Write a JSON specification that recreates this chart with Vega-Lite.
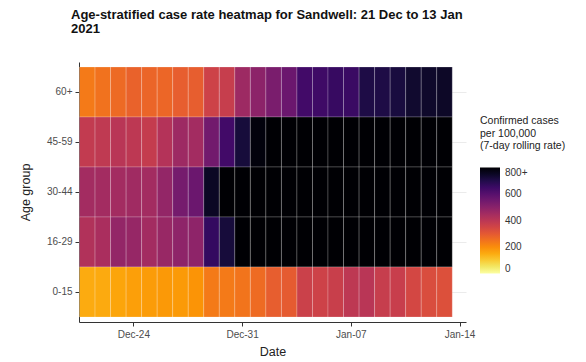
{
  "$schema": "https://vega.github.io/schema/vega-lite/v6.json",
  "width": 387,
  "height": 260,
  "autosize": {"type": "none"},
  "padding": {"left": 79, "top": 62, "right": 120, "bottom": 40},
  "background": "white",
  "config": {
    "font": "Liberation Sans",
    "view": {"stroke": null},
    "axis": {"domainColor": "#333333", "tickColor": "#333333", "labelColor": "#4d4d4d", "labelFontSize": 10, "titleFontSize": 12.5, "titleFontWeight": "normal", "titleColor": "#222222", "tickSize": 4}
  },
  "title": {
    "text": ["Age-stratified case rate heatmap for Sandwell: 21 Dec to 13 Jan", "2021"],
    "anchor": "start",
    "frame": "group",
    "dx": -8,
    "fontSize": 13,
    "fontWeight": "bold",
    "color": "#111111",
    "lineHeight": 14,
    "offset": 26
  },
  "data": {
    "values": [
      {"date": "2020-12-21", "age": "60+", "rate": 235},
      {"date": "2020-12-22", "age": "60+", "rate": 250},
      {"date": "2020-12-23", "age": "60+", "rate": 265},
      {"date": "2020-12-24", "age": "60+", "rate": 280},
      {"date": "2020-12-25", "age": "60+", "rate": 275},
      {"date": "2020-12-26", "age": "60+", "rate": 272},
      {"date": "2020-12-27", "age": "60+", "rate": 290},
      {"date": "2020-12-28", "age": "60+", "rate": 290},
      {"date": "2020-12-29", "age": "60+", "rate": 360},
      {"date": "2020-12-30", "age": "60+", "rate": 375},
      {"date": "2020-12-31", "age": "60+", "rate": 460},
      {"date": "2021-01-01", "age": "60+", "rate": 495},
      {"date": "2021-01-02", "age": "60+", "rate": 530},
      {"date": "2021-01-03", "age": "60+", "rate": 560},
      {"date": "2021-01-04", "age": "60+", "rate": 640},
      {"date": "2021-01-05", "age": "60+", "rate": 645},
      {"date": "2021-01-06", "age": "60+", "rate": 660},
      {"date": "2021-01-07", "age": "60+", "rate": 655},
      {"date": "2021-01-08", "age": "60+", "rate": 705},
      {"date": "2021-01-09", "age": "60+", "rate": 705},
      {"date": "2021-01-10", "age": "60+", "rate": 715},
      {"date": "2021-01-11", "age": "60+", "rate": 735},
      {"date": "2021-01-12", "age": "60+", "rate": 740},
      {"date": "2021-01-13", "age": "60+", "rate": 745},
      {"date": "2020-12-21", "age": "45-59", "rate": 385},
      {"date": "2020-12-22", "age": "45-59", "rate": 390},
      {"date": "2020-12-23", "age": "45-59", "rate": 405},
      {"date": "2020-12-24", "age": "45-59", "rate": 395},
      {"date": "2020-12-25", "age": "45-59", "rate": 380},
      {"date": "2020-12-26", "age": "45-59", "rate": 415},
      {"date": "2020-12-27", "age": "45-59", "rate": 460},
      {"date": "2020-12-28", "age": "45-59", "rate": 450},
      {"date": "2020-12-29", "age": "45-59", "rate": 545},
      {"date": "2020-12-30", "age": "45-59", "rate": 640},
      {"date": "2020-12-31", "age": "45-59", "rate": 720},
      {"date": "2021-01-01", "age": "45-59", "rate": 785},
      {"date": "2021-01-02", "age": "45-59", "rate": 850},
      {"date": "2021-01-03", "age": "45-59", "rate": 900},
      {"date": "2021-01-04", "age": "45-59", "rate": 950},
      {"date": "2021-01-05", "age": "45-59", "rate": 980},
      {"date": "2021-01-06", "age": "45-59", "rate": 1000},
      {"date": "2021-01-07", "age": "45-59", "rate": 1020},
      {"date": "2021-01-08", "age": "45-59", "rate": 1010},
      {"date": "2021-01-09", "age": "45-59", "rate": 990},
      {"date": "2021-01-10", "age": "45-59", "rate": 960},
      {"date": "2021-01-11", "age": "45-59", "rate": 930},
      {"date": "2021-01-12", "age": "45-59", "rate": 900},
      {"date": "2021-01-13", "age": "45-59", "rate": 880},
      {"date": "2020-12-21", "age": "30-44", "rate": 450},
      {"date": "2020-12-22", "age": "30-44", "rate": 450},
      {"date": "2020-12-23", "age": "30-44", "rate": 450},
      {"date": "2020-12-24", "age": "30-44", "rate": 455},
      {"date": "2020-12-25", "age": "30-44", "rate": 450},
      {"date": "2020-12-26", "age": "30-44", "rate": 480},
      {"date": "2020-12-27", "age": "30-44", "rate": 540},
      {"date": "2020-12-28", "age": "30-44", "rate": 560},
      {"date": "2020-12-29", "age": "30-44", "rate": 750},
      {"date": "2020-12-30", "age": "30-44", "rate": 830},
      {"date": "2020-12-31", "age": "30-44", "rate": 880},
      {"date": "2021-01-01", "age": "30-44", "rate": 920},
      {"date": "2021-01-02", "age": "30-44", "rate": 960},
      {"date": "2021-01-03", "age": "30-44", "rate": 1000},
      {"date": "2021-01-04", "age": "30-44", "rate": 1040},
      {"date": "2021-01-05", "age": "30-44", "rate": 1060},
      {"date": "2021-01-06", "age": "30-44", "rate": 1080},
      {"date": "2021-01-07", "age": "30-44", "rate": 1070},
      {"date": "2021-01-08", "age": "30-44", "rate": 1050},
      {"date": "2021-01-09", "age": "30-44", "rate": 1020},
      {"date": "2021-01-10", "age": "30-44", "rate": 990},
      {"date": "2021-01-11", "age": "30-44", "rate": 960},
      {"date": "2021-01-12", "age": "30-44", "rate": 930},
      {"date": "2021-01-13", "age": "30-44", "rate": 900},
      {"date": "2020-12-21", "age": "16-29", "rate": 420},
      {"date": "2020-12-22", "age": "16-29", "rate": 435},
      {"date": "2020-12-23", "age": "16-29", "rate": 480},
      {"date": "2020-12-24", "age": "16-29", "rate": 475},
      {"date": "2020-12-25", "age": "16-29", "rate": 450},
      {"date": "2020-12-26", "age": "16-29", "rate": 470},
      {"date": "2020-12-27", "age": "16-29", "rate": 490},
      {"date": "2020-12-28", "age": "16-29", "rate": 490},
      {"date": "2020-12-29", "age": "16-29", "rate": 665},
      {"date": "2020-12-30", "age": "16-29", "rate": 720},
      {"date": "2020-12-31", "age": "16-29", "rate": 820},
      {"date": "2021-01-01", "age": "16-29", "rate": 870},
      {"date": "2021-01-02", "age": "16-29", "rate": 910},
      {"date": "2021-01-03", "age": "16-29", "rate": 950},
      {"date": "2021-01-04", "age": "16-29", "rate": 980},
      {"date": "2021-01-05", "age": "16-29", "rate": 1000},
      {"date": "2021-01-06", "age": "16-29", "rate": 1010},
      {"date": "2021-01-07", "age": "16-29", "rate": 1000},
      {"date": "2021-01-08", "age": "16-29", "rate": 980},
      {"date": "2021-01-09", "age": "16-29", "rate": 950},
      {"date": "2021-01-10", "age": "16-29", "rate": 920},
      {"date": "2021-01-11", "age": "16-29", "rate": 890},
      {"date": "2021-01-12", "age": "16-29", "rate": 860},
      {"date": "2021-01-13", "age": "16-29", "rate": 840},
      {"date": "2020-12-21", "age": "0-15", "rate": 150},
      {"date": "2020-12-22", "age": "0-15", "rate": 152},
      {"date": "2020-12-23", "age": "0-15", "rate": 160},
      {"date": "2020-12-24", "age": "0-15", "rate": 170},
      {"date": "2020-12-25", "age": "0-15", "rate": 175},
      {"date": "2020-12-26", "age": "0-15", "rate": 180},
      {"date": "2020-12-27", "age": "0-15", "rate": 178},
      {"date": "2020-12-28", "age": "0-15", "rate": 188},
      {"date": "2020-12-29", "age": "0-15", "rate": 235},
      {"date": "2020-12-30", "age": "0-15", "rate": 235},
      {"date": "2020-12-31", "age": "0-15", "rate": 245},
      {"date": "2021-01-01", "age": "0-15", "rate": 262},
      {"date": "2021-01-02", "age": "0-15", "rate": 290},
      {"date": "2021-01-03", "age": "0-15", "rate": 295},
      {"date": "2021-01-04", "age": "0-15", "rate": 365},
      {"date": "2021-01-05", "age": "0-15", "rate": 360},
      {"date": "2021-01-06", "age": "0-15", "rate": 370},
      {"date": "2021-01-07", "age": "0-15", "rate": 395},
      {"date": "2021-01-08", "age": "0-15", "rate": 405},
      {"date": "2021-01-09", "age": "0-15", "rate": 375},
      {"date": "2021-01-10", "age": "0-15", "rate": 372},
      {"date": "2021-01-11", "age": "0-15", "rate": 345},
      {"date": "2021-01-12", "age": "0-15", "rate": 330},
      {"date": "2021-01-13", "age": "0-15", "rate": 322}
    ]
  },
  "mark": {"type": "rect", "stroke": "white", "strokeWidth": 0.6, "strokeOpacity": 0.35, "zindex": 1},
  "encoding": {
    "x": {
      "field": "date",
      "type": "temporal",
      "timeUnit": "utcyearmonthdate",
      "title": "Date",
      "scale": {
        "domain": [
          {"year": 2020, "month": 12, "date": 21, "utc": true},
          {"year": 2021, "month": 1, "date": 14, "hours": 22, "utc": true}
        ]
      },
      "axis": {
        "values": [
          {"year": 2020, "month": 12, "date": 24, "hours": 12, "utc": true},
          {"year": 2020, "month": 12, "date": 31, "hours": 12, "utc": true},
          {"year": 2021, "month": 1, "date": 7, "hours": 12, "utc": true},
          {"year": 2021, "month": 1, "date": 14, "hours": 12, "utc": true}
        ],
        "format": "%b-%d",
        "grid": false,
        "labelPadding": 3,
        "titlePadding": 6,
        "zindex": 2
      }
    },
    "y": {
      "field": "age",
      "type": "nominal",
      "title": "Age group",
      "sort": ["60+", "45-59", "30-44", "16-29", "0-15"],
      "scale": {"paddingInner": 0, "paddingOuter": 0.1},
      "axis": {"grid": true, "gridColor": "#ebebeb", "labelPadding": 3, "titlePadding": 14, "zindex": 0}
    },
    "color": {
      "field": "rate",
      "type": "quantitative",
      "scale": {"scheme": "inferno", "reverse": true, "domain": [0, 800], "clamp": true},
      "legend": {
        "title": ["Confirmed cases", "\u00a0per 100,000", "(7-day rolling rate)"],
        "titleFontWeight": "normal",
        "titleFontSize": 10.5,
        "titleColor": "#222222",
        "titlePadding": 16,
        "labelFontSize": 10,
        "labelColor": "#333333",
        "labelOffset": 5,
        "values": [0, 200, 400, 600, 800],
        "labelExpr": "datum.value == 800 ? '800+' : datum.label",
        "gradientLength": 106,
        "gradientThickness": 20,
        "gradientStrokeWidth": 0,
        "direction": "vertical",
        "orient": "none",
        "legendX": 401,
        "legendY": 54
      }
    }
  }
}
